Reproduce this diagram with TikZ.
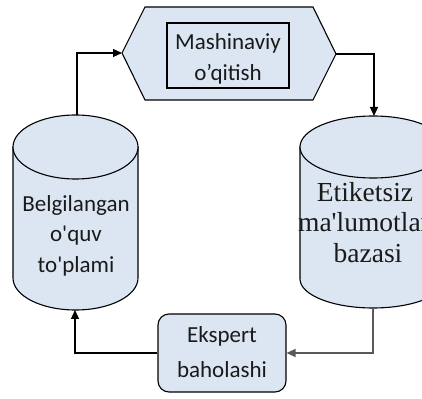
\documentclass[tikz,border=0pt]{standalone}
\usepackage{fontspec}
\newfontfamily\calib{Carlito}
\newfontfamily\timesf{Liberation Serif}
\usetikzlibrary{arrows.meta}
\definecolor{fillblue}{HTML}{DCE6F2}
\definecolor{txt}{HTML}{1A1A1A}
\begin{document}
\begin{tikzpicture}[x=1pt,y=1pt,
  outl/.style={draw=black, line width=1.1pt, fill=fillblue},
  conn/.style={draw=black, line width=1.2pt, -{Triangle[length=9pt,width=8pt]}},
  sanslbl/.style={anchor=base, inner sep=0pt, text=txt, font=\calib\fontsize{23}{30}\selectfont},
  seriflbl/.style={anchor=base, inner sep=0pt, text=txt, font=\timesf\fontsize{27.5}{30}\selectfont}]
\useasboundingbox (0,0) rectangle (422,398);

% hexagon
\draw[outl] (122,345) coordinate (hexL) -- (145,391) -- (313,391) -- (336,344) coordinate (hexR)
  -- (313,298) -- (145,298) -- cycle;
\node[draw=black, line width=1.1pt, minimum width=122pt, minimum height=65pt, inner sep=0pt] (mlbox) at (228,342.5) {};
\node[sanslbl] (ml1) at (228,348) {Mashinaviy};
\node[sanslbl] (ml2) at (228,317) {o’qitish};

% left cylinder
\draw[outl] (13,251) -- (13,120) arc[start angle=180, end angle=360, x radius=62.5, y radius=32] -- (138,251) -- cycle;
\draw[outl] (75.5,251) ellipse [x radius=62.5, y radius=32];
\coordinate (lcTop) at (77,283);
\coordinate (lcBot) at (75,88);
\node[sanslbl] (lc1) at (76,186) {Belgilangan};
\node[sanslbl] (lc2) at (76,156) {o\textquotesingle quv};
\node[sanslbl] (lc3) at (76,125) {to\textquotesingle plami};

% right cylinder
\draw[outl] (300,251) -- (300,119) arc[start angle=180, end angle=360, x radius=73, y radius=29] -- (446,251) -- cycle;
\draw[outl] (373,251) ellipse [x radius=73, y radius=31];
\coordinate (rcTop) at (374,282);
\coordinate (rcBot) at (373,90);
\node[seriflbl] (rc1) at (365,196) {Etiketsiz};
\node[seriflbl] (rc2) at (364,166) {ma\textquotesingle lumotlar};
\node[seriflbl] (rc3) at (368,135) {bazasi};

% expert box
\node[outl, rounded corners=11pt, minimum width=128pt, minimum height=78pt, inner sep=0pt] (ek) at (222,45) {};
\node[sanslbl] (ek1) at (222,55) {Ekspert};
\node[sanslbl] (ek2) at (222,20) {baholashi};

% connectors
\draw[conn] (lcTop) |- (hexL);
\draw[conn] (hexR) -| (rcTop);
\draw[conn, draw=black!65] (rcBot) |- (ek.east);
\draw[conn] (ek.west) -| (lcBot);
\end{tikzpicture}
\end{document}
